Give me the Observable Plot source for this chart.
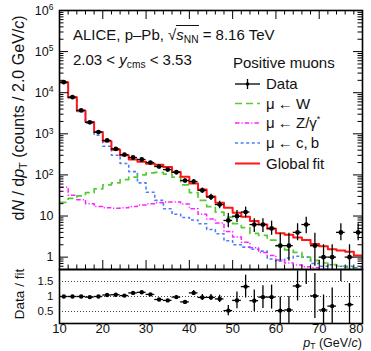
<!DOCTYPE html>
<html><head><meta charset="utf-8">
<script src="https://cdn.jsdelivr.net/npm/d3@7"></script>
<script src="https://cdn.jsdelivr.net/npm/@observablehq/plot@0.6"></script>
<style>
body{margin:0;background:#fff;}
#wrap{position:relative;width:371px;height:351px;font-family:"Liberation Sans",Arial,Helvetica,sans-serif;color:#111;overflow:hidden;background:#fff;}
#wrap > svg{position:absolute;left:0;}
.t{position:absolute;white-space:nowrap;line-height:1;}
.sub{font-size:0.68em;vertical-align:-0.32em;}
.sub2{font-size:0.68em;vertical-align:-0.2em;line-height:0;}
</style></head><body><div id="wrap"></div>
<script>
// ---------- data ----------
const binCenters = [11,13,15,17,19,21,23,25,27,29,31,33,35,37,39,41,43,45,47,49,51,53,55,57,59,61,63,65,67,69,71,73,75,77,79];
const dataCounts = [18000,7800,3700,1900,1100,690,430,310,265,237,200,160,135,116,73,69,42,29,19,7.8,9.9,12.5,6.2,6.2,5.0,1.9,1.9,4.0,6.2,1.9,1.0,1.0,4.0,1.0,4.0];
const dataLow    = [17600,7600,3600,1850,1060,660,410,292,250,222,187,148,124,105,65,61,36,24,15,5.2,7.0,9.0,4.0,4.0,3.4,0.8,0.8,2.5,3.7,0.6,0.3,0.3,2.5,0.3,2.5];
const dataHigh   = [18400,8000,3800,1950,1140,720,450,328,280,252,213,172,146,127,81,77,48,34,23,11.5,13.6,16.5,8.6,8.6,7.5,3.8,3.8,6.5,9.4,3.8,2.0,2.0,6.5,2.0,6.5];
const fitValues  = [18000,7800,3700,1950,1100,660,410,300,237,208,187,176,155,118,90,62,44,30,21,16,12,9.6,7.6,6.2,4.9,3.8,3.5,3.0,2.6,2.1,1.85,1.55,1.45,1.35,1.1];
const wValues    = [21.5,27,31,37,46,57,64,77,88,100,112,115,105,88,57,37,24,17,12.4,9.4,6.5,5.2,3.8,3.4,2.6,1.9,1.5,1.3,1.0,0.83,0.72,0.66,0.6,0.55,0.5];
const zValues    = [50,32,25,20,17,15.8,15.5,15.8,17,18.5,20,21,22,22,19.5,15,11,8.5,6.8,4.2,3.1,2.3,1.7,1.3,1.1,0.85,0.72,0.64,0.58,0.55,0.5,0.45,0.42,0.38,0.35];
const cbValues   = [17500,7500,3500,1800,920,500,300,190,120,64,38,24,15,11,9.2,8,6.5,4.7,3.7,2.5,2.0,1.75,1.55,1.4,0.9,0.8,0.95,1.05,1.0,0.7,0.6,0.65,0.6,0.6,0.55];
const ratioValues= [1.0,1.0,1.0,0.98,1.0,1.05,1.06,1.03,1.12,1.14,1.07,0.9,0.87,0.98,0.82,1.12,0.97,0.97,0.92,0.53,0.87,1.33,0.86,0.98,0.98,0.53,0.55,1.35,2.3,1.02,0.55,0.68,2.7,0.73,3.6];
const ratioErr   = [0.02,0.02,0.02,0.02,0.02,0.02,0.02,0.02,0.02,0.02,0.02,0.03,0.03,0.04,0.05,0.08,0.1,0.1,0.12,0.17,0.28,0.38,0.36,0.38,0.4,0.45,0.45,0.5,0.9,0.75,0.5,0.6,1.2,0.7,1.4];
const xTicks = [10,20,30,40,50,60,70,80];
const yDecades = [1,10,100,1000,10000,100000,1000000];
const yDecadeLabels = ["1","10","10^2","10^3","10^4","10^5","10^6"];
const ratioTicks = [0.5,1,1.5];

// ---------- layout ----------
const W = 371, ML = 59, MR = 9;
const frameW = W - ML - MR;          // 303
const mainTop = 10, mainBot = 269;
const frameH = mainBot - mainTop;    // 259
const FONT = '"Liberation Sans", Arial, Helvetica, sans-serif';
const MAJ = 9, MIN = 4.5;

const rows = binCenters.map((c,i)=>({c, v:dataCounts[i], lo:dataLow[i], hi:dataHigh[i], r:ratioValues[i], re:ratioErr[i]}));
function steps(vals){
  const pts = binCenters.map((c,i)=>({x:c-1, y:vals[i]}));
  pts.push({x:binCenters[binCenters.length-1]+1, y:vals[vals.length-1]});
  return pts;
}
// axis tick positions (not data)
const yMinor = [];
for (let k=-1;k<6;k++) for (let m=2;m<=9;m++){ const v=m*Math.pow(10,k); if (v>=0.5 && v<=1e6) yMinor.push(v); }
const xMinor = d3.range(12,80,2).filter(v=>v%10!==0);
const labelMap = new Map(yDecades.map((d,i)=>[d,yDecadeLabels[i]]));

const lineOpts = {x:"x", y:"y", curve:"step-after", clip:true, strokeLinecap:"butt"};
const main = Plot.plot({
  width: W, height: 271, marginTop: mainTop, marginBottom: 271-mainBot, marginLeft: ML, marginRight: MR,
  style: {fontFamily: FONT, background: "transparent", overflow: "visible", color:"#111"},
  x: {domain:[10,80], axis:null},
  y: {type:"log", domain:[0.5,1e6], axis:null},
  marks: [
    Plot.line(steps(cbValues), {...lineOpts, stroke:"#4d7cff", strokeWidth:1.6, strokeDasharray:"3,2.6"}),
    Plot.line(steps(zValues), {...lineOpts, stroke:"#ff22ff", strokeWidth:1.5, strokeDasharray:"4.5,2,1.2,2"}),
    Plot.line(steps(wValues), {...lineOpts, stroke:"#52cc30", strokeWidth:1.7, strokeDasharray:"7,4"}),
    Plot.line(steps(fitValues), {...lineOpts, stroke:"#ff1515", strokeWidth:2}),
    Plot.ruleX(rows, {x:"c", y1:"lo", y2:"hi", stroke:"#000", strokeWidth:1.3, clip:true}),
    Plot.ruleY(rows, {y:"v", x1:d=>d.c-1, x2:d=>d.c+1, stroke:"#000", strokeWidth:1.3, clip:true}),
    Plot.dot(rows, {x:"c", y:"v", r:2.4, fill:"#000", stroke:"none", clip:true}),
    // inward ticks
    Plot.tickY(yDecades, {y:d=>d, insetRight: frameW-MAJ, stroke:"#000"}),
    Plot.tickY(yMinor, {y:d=>d, insetRight: frameW-MIN, stroke:"#000"}),
    Plot.tickY(yDecades, {y:d=>d, insetLeft: frameW-MAJ, stroke:"#000"}),
    Plot.tickY(yMinor, {y:d=>d, insetLeft: frameW-MIN, stroke:"#000"}),
    Plot.tickX(xTicks, {x:d=>d, insetTop: frameH-MAJ, stroke:"#000"}),
    Plot.tickX(xMinor, {x:d=>d, insetTop: frameH-MIN, stroke:"#000"}),
    Plot.tickX(xTicks, {x:d=>d, insetBottom: frameH-MAJ, stroke:"#000"}),
    Plot.tickX(xMinor, {x:d=>d, insetBottom: frameH-MIN, stroke:"#000"}),
    Plot.axisY({ticks: yDecades, tickSize:0, tickPadding:6, fontSize:12.5, label:null, tickFormat:d=>labelMap.get(d)}),
    Plot.frame({stroke:"#000", strokeWidth:1.6})
  ]
});

const ratio = Plot.plot({
  width: W, height: 83, marginTop: 1, marginBottom: 28, marginLeft: ML, marginRight: MR,
  style: {fontFamily: FONT, background: "transparent", overflow: "visible", color:"#111"},
  x: {domain:[10,80], label:null},
  y: {domain:[0.1,1.9], label:null},
  marks: [
    Plot.ruleY(ratioTicks, {y:d=>d, stroke:"#444", strokeWidth:1.1, strokeDasharray:"1,2"}),
    Plot.ruleX(rows, {x:"c", y1:d=>d.r-d.re, y2:d=>d.r+d.re, stroke:"#000", strokeWidth:1.3, clip:true}),
    Plot.ruleY(rows, {y:"r", x1:d=>d.c-1, x2:d=>d.c+1, stroke:"#000", strokeWidth:1.3, clip:true}),
    Plot.dot(rows, {x:"c", y:"r", r:2.2, fill:"#000", stroke:"none", clip:true}),
    Plot.axisY({ticks: ratioTicks, tickSize:0, tickPadding:6, fontSize:11.5, label:null, tickFormat:d=>String(d)}),
    Plot.axisX({ticks: xTicks, tickSize:0, tickPadding:0.5, fontSize:13, label:null, tickFormat:d=>String(d)}),
    Plot.frame({stroke:"#000", strokeWidth:1.6})
  ]
});

const wrap = document.getElementById("wrap");
main.style.top = "0px";
ratio.style.top = "268px";
wrap.appendChild(ratio);
wrap.appendChild(main);

// superscripts on decade labels
d3.select(main).selectAll('g[aria-label="y-axis tick label"] text').each(function(){
  const s = this.textContent;
  if (s.indexOf("^")>0){
    const [b,e] = s.split("^");
    const t = d3.select(this).text(null);
    t.append("tspan").text(b);
    t.append("tspan").attr("dy","-0.5em").attr("font-size","8.5px").text(e);
  }
});
// last x label kept inside the frame edge, as in the reference
d3.select(ratio).selectAll('g[aria-label="x-axis tick label"] text').each(function(){
  if (this.textContent === String(xTicks[xTicks.length-1])) d3.select(this).attr("text-anchor","end").attr("dx","1");
});

// ---------- texts ----------
function addText(html, css){
  const d = document.createElement("div");
  d.className = "t"; d.innerHTML = html; Object.assign(d.style, css); wrap.appendChild(d); return d;
}
addText('d<i>N</i> / d<i>p</i><span class="sub">T</span> (counts / 2.0 GeV/<i>c</i>)',
  {left:"20px", top:"118px", fontSize:"16px", transform:"translate(-50%,-50%) rotate(-90deg)"});
addText('Data / fit', {left:"20px", top:"294px", fontSize:"13.5px", transform:"translate(-50%,-50%) rotate(-90deg)"});
addText('<i>p</i><span class="sub2">T</span> (GeV/<i>c</i>)', {right:"9px", top:"337px", fontSize:"12.5px", lineHeight:"12px", height:"12px"});
addText('ALICE, p–Pb, √<span style="display:inline-block;border-top:1px solid #111;line-height:1;padding-top:1px;margin-left:0px"><i>s</i><span class="sub">NN</span></span> = 8.16 TeV',
  {left:"73px", top:"25px", fontSize:"15px"});
addText('2.03 &lt; <i>y</i><span class="sub">cms</span> &lt; 3.53', {left:"73px", top:"52px", fontSize:"15px"});
addText('Positive muons', {left:"233px", top:"55px", fontSize:"15px"});
const legendItems = ["Data","μ ← W",'μ ← Z/γ<sup style="font-size:0.6em">*</sup>',"μ ← c, b","Global fit"];
const legendY = [84,103.5,123,143,163.5];
legendItems.forEach((s,i)=>addText(s,{left:"266px", top:(legendY[i]-8)+"px", fontSize:"15px", wordSpacing:"-1px"}));

// legend samples
const lg = d3.select(wrap).append("svg").attr("width",W).attr("height",351)
  .style("position","absolute").style("left","0px").style("top","0px");
const x0 = 235, x1 = 260;
lg.append("line").attr("x1",x0).attr("x2",x1).attr("y1",legendY[0]).attr("y2",legendY[0]).attr("stroke","#000").attr("stroke-width",1.3);
lg.append("line").attr("x1",(x0+x1)/2).attr("x2",(x0+x1)/2).attr("y1",legendY[0]-5).attr("y2",legendY[0]+5).attr("stroke","#000").attr("stroke-width",1.3);
lg.append("circle").attr("cx",(x0+x1)/2).attr("cy",legendY[0]).attr("r",1.8).attr("fill","#000");
const styles = [["#52cc30","7,4",1.7],["#ff22ff","4.5,2,1.2,2",1.5],["#4d7cff","3,2.6",1.6],["#ff1515",null,2]];
styles.forEach((s,i)=>{
  const l = lg.append("line").attr("x1",x0).attr("x2",x1).attr("y1",legendY[i+1]).attr("y2",legendY[i+1])
    .attr("stroke",s[0]).attr("stroke-width",s[2]);
  if (s[1]) l.attr("stroke-dasharray",s[1]);
});
</script></body></html>
